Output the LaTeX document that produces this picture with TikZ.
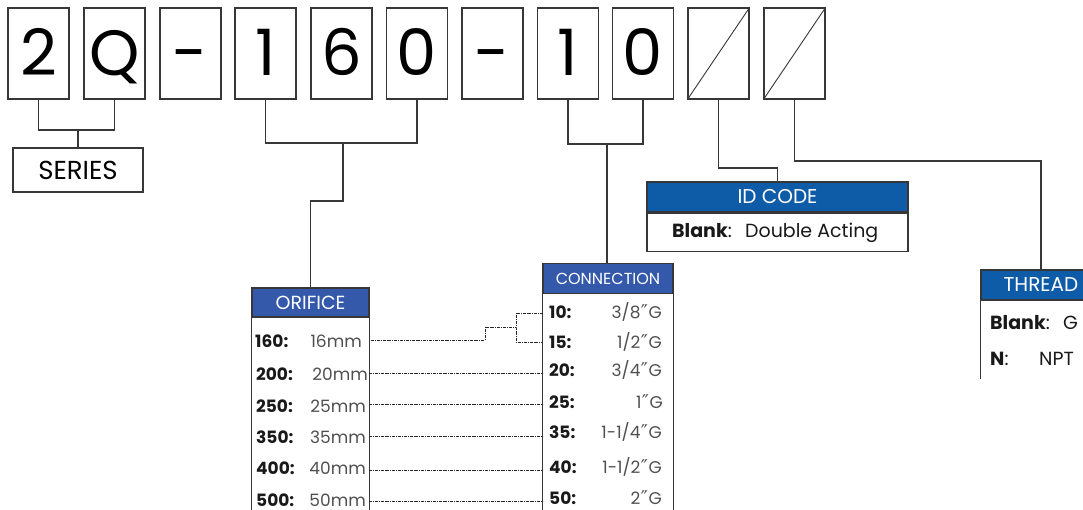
\documentclass[tikz,border=0pt]{standalone}
\usepackage{fontspec}
\setmainfont{Poppins}
\newfontfamily\symf{DejaVu Sans}
\definecolor{hdrA}{RGB}{14,92,168}
\definecolor{hdrB}{RGB}{52,88,170}
\definecolor{ln}{RGB}{55,55,55}
\definecolor{val}{RGB}{80,80,80}
\definecolor{lab}{RGB}{25,25,25}
\newcommand{\dq}{{\symf\fontsize{19}{19}\selectfont\kern0.5pt″\kern0.5pt}}
\tikzset{
  digitbox/.style={draw=ln, line width=1.4pt, minimum width=61pt, minimum height=91pt,
    inner sep=0pt, text height=45pt, text depth=0pt, font=\fontsize{64}{64}\selectfont},
  conn/.style={draw=ln, line width=1.3pt},
  dotline/.style={draw=black!85, line width=1pt, dash pattern={on 3pt off 1pt on 0.8pt off 1pt}},
  hdr/.style={draw=ln, line width=1.2pt, inner sep=0pt, text=white},
  olab/.style={anchor=base west, font=\bfseries\fontsize{17}{17}\selectfont, text=lab, inner sep=0pt},
  oval/.style={anchor=base east, font=\fontsize{17}{17}\selectfont, text=val, inner sep=0pt},
  rowlab/.style={anchor=base west, font=\bfseries\fontsize{19}{19}\selectfont, text=lab, inner sep=0pt},
  rowval/.style={anchor=base west, font=\fontsize{19}{19}\selectfont, text=lab, inner sep=0pt},
}
\begin{document}
\begin{tikzpicture}[x=1pt,y=-1pt]
\clip (0,0) rectangle (1083,510);
\fill[white] (0,0) rectangle (1083,510);

% top code boxes
\node[digitbox] (b1) at (38.5,53.5) {2};
\node[digitbox] (b2) at (114.5,53.5) {Q};
\node[digitbox] (b3) at (190.5,53.5) {-};
\node[digitbox] (b4) at (265.5,53.5) {1};
\node[digitbox] (b5) at (341.5,53.5) {6};
\node[digitbox] (b6) at (417,53.5) {0};
\node[digitbox] (b7) at (492.5,53.5) {-};
\node[digitbox] (b8) at (568,53.5) {1};
\node[digitbox] (b9) at (643,53.5) {0};
\node[digitbox] (b10) at (718.5,53.5) {};
\node[digitbox] (b11) at (794.5,53.5) {};
\draw[ln, line width=0.9pt] (b10.south west) -- (b10.north east);
\draw[ln, line width=0.9pt] (b11.south west) -- (b11.north east);

% SERIES
\node[draw=ln, line width=1.3pt, minimum width=130pt, minimum height=44pt, inner sep=0pt,
  font=\fontsize{26}{26}\selectfont] (series) at (78,170) {SERIES};
\coordinate (sj) at (78,130);
\draw[conn] (b1.south) |- (sj) -| (b2.south);
\draw[conn] (sj) -- (series.north);

% ORIFICE
\node[hdr, fill=hdrB, minimum width=117pt, minimum height=29pt,
  font=\fontsize{19}{19}\selectfont] (ohdr) at (310.5,302.5) {ORIFICE};
\draw[ln, line width=1.3pt] (ohdr.south west) -- ++(0,200);
\draw[ln, line width=1.3pt] (ohdr.south east) -- ++(0,200);
\coordinate (oj) at (343,143);
\coordinate (ok) at (343,201);
\draw[conn] (b4.south) |- (oj) -| (b6.south);
\draw[conn] (oj) -- (ok) -| (ohdr.north);

% CONNECTION
\node[hdr, fill=hdrB, minimum width=130pt, minimum height=30pt,
  font=\fontsize{16}{16}\selectfont] (chdr) at (608,278.5) {CONNECTION};
\draw[ln, line width=1.3pt] (chdr.south west) -- ++(0,220);
\draw[ln, line width=1.3pt] (chdr.south east) -- ++(0,220);
\coordinate (cj) at (607,144);
\draw[conn] (b8.south) |- (cj) -| (b9.south);
\draw[conn] (cj) -- (cj |- chdr.north);

% ID CODE
\node[hdr, fill=hdrA, minimum width=261pt, minimum height=30pt,
  font=\fontsize{20}{20}\selectfont] (idh) at (777.5,197) {ID CODE};
\node[draw=ln, line width=1.2pt, minimum width=261pt, minimum height=38pt, inner sep=0pt,
  anchor=north] (idb) at (idh.south) {};
\node[rowlab] (idl) at (672,238) {Blank\textmd{:}};
\node[rowval] (idv) at (745,238) {Double Acting};
\coordinate (ij) at (722,168);
\draw[conn] (b10.south) |- (ij) -| (idh.north);

% THREAD
\node[hdr, fill=hdrA, minimum width=120pt, minimum height=30pt,
  font=\fontsize{20}{20}\selectfont] (thdr) at (1041,285) {THREAD};
\draw[ln, line width=1.3pt] (thdr.south west) -- ++(0,78);
\node[rowlab] (tl1) at (990,329) {Blank\textmd{:}};
\node[rowval] (tv1) at (1063,329) {G};
\node[rowlab] (tl2) at (990,365) {N\textmd{:}};
\node[rowval] (tv2) at (1039,365) {NPT};
\coordinate (tj) at (794,161);
\draw[conn] (b11.south) |- (tj) -| (thdr.north);

% ORIFICE rows
\node[olab] (o1) at (255,347) {160:};
\node[olab] (o2) at (256,380) {200:};
\node[olab] (o3) at (256,412) {250:};
\node[olab] (o4) at (256,443) {350:};
\node[olab] (o5) at (256,474) {400:};
\node[olab] (o6) at (256,506) {500:};
\node[oval] (ov1) at (362,347) {16mm};
\node[oval] (ov2) at (368,380) {20mm};
\node[oval] (ov3) at (366,412) {25mm};
\node[oval] (ov4) at (366,443) {35mm};
\node[oval] (ov5) at (366,474) {40mm};
\node[oval] (ov6) at (366,506) {50mm};

% CONNECTION rows
\node[olab] (c1) at (549,319) {10:};
\node[olab] (c2) at (549,348) {15:};
\node[olab] (c3) at (549,376) {20:};
\node[olab] (c4) at (549,408) {25:};
\node[olab] (c5) at (549,438) {35:};
\node[olab] (c6) at (549,473) {40:};
\node[olab] (c7) at (549,504) {50:};
\node[oval] (cv1) at (662,319) {3/8\dq G};
\node[oval] (cv2) at (662,348) {1/2\dq G};
\node[oval] (cv3) at (662,376) {3/4\dq G};
\node[oval] (cv4) at (663,408) {1\dq G};
\node[oval] (cv5) at (662,438) {1-1/4\dq G};
\node[oval] (cv6) at (662,473) {1-1/2\dq G};
\node[oval] (cv7) at (662,504) {2\dq G};

% dotted links
\coordinate (d1a) at (371,340);
\coordinate (d1b) at (485,340);
\coordinate (d1c) at (485,327);
\coordinate (d1d) at (516,327);
\coordinate (d10) at (543,313);
\coordinate (d15) at (543,342);
\draw[dotline] (d1a) -- (d1b) -- (d1c) -- (d1d);
\draw[dotline] (d10) -| (d1d) |- (d15);
\foreach \y/\nm in {373/2, 404/3, 436/4, 470/5, 501/6}{
  \coordinate (l\nm) at (369,\y);
  \coordinate (r\nm) at (543,\y);
  \draw[dotline] (l\nm) -- (r\nm);
}
\end{tikzpicture}
\end{document}
